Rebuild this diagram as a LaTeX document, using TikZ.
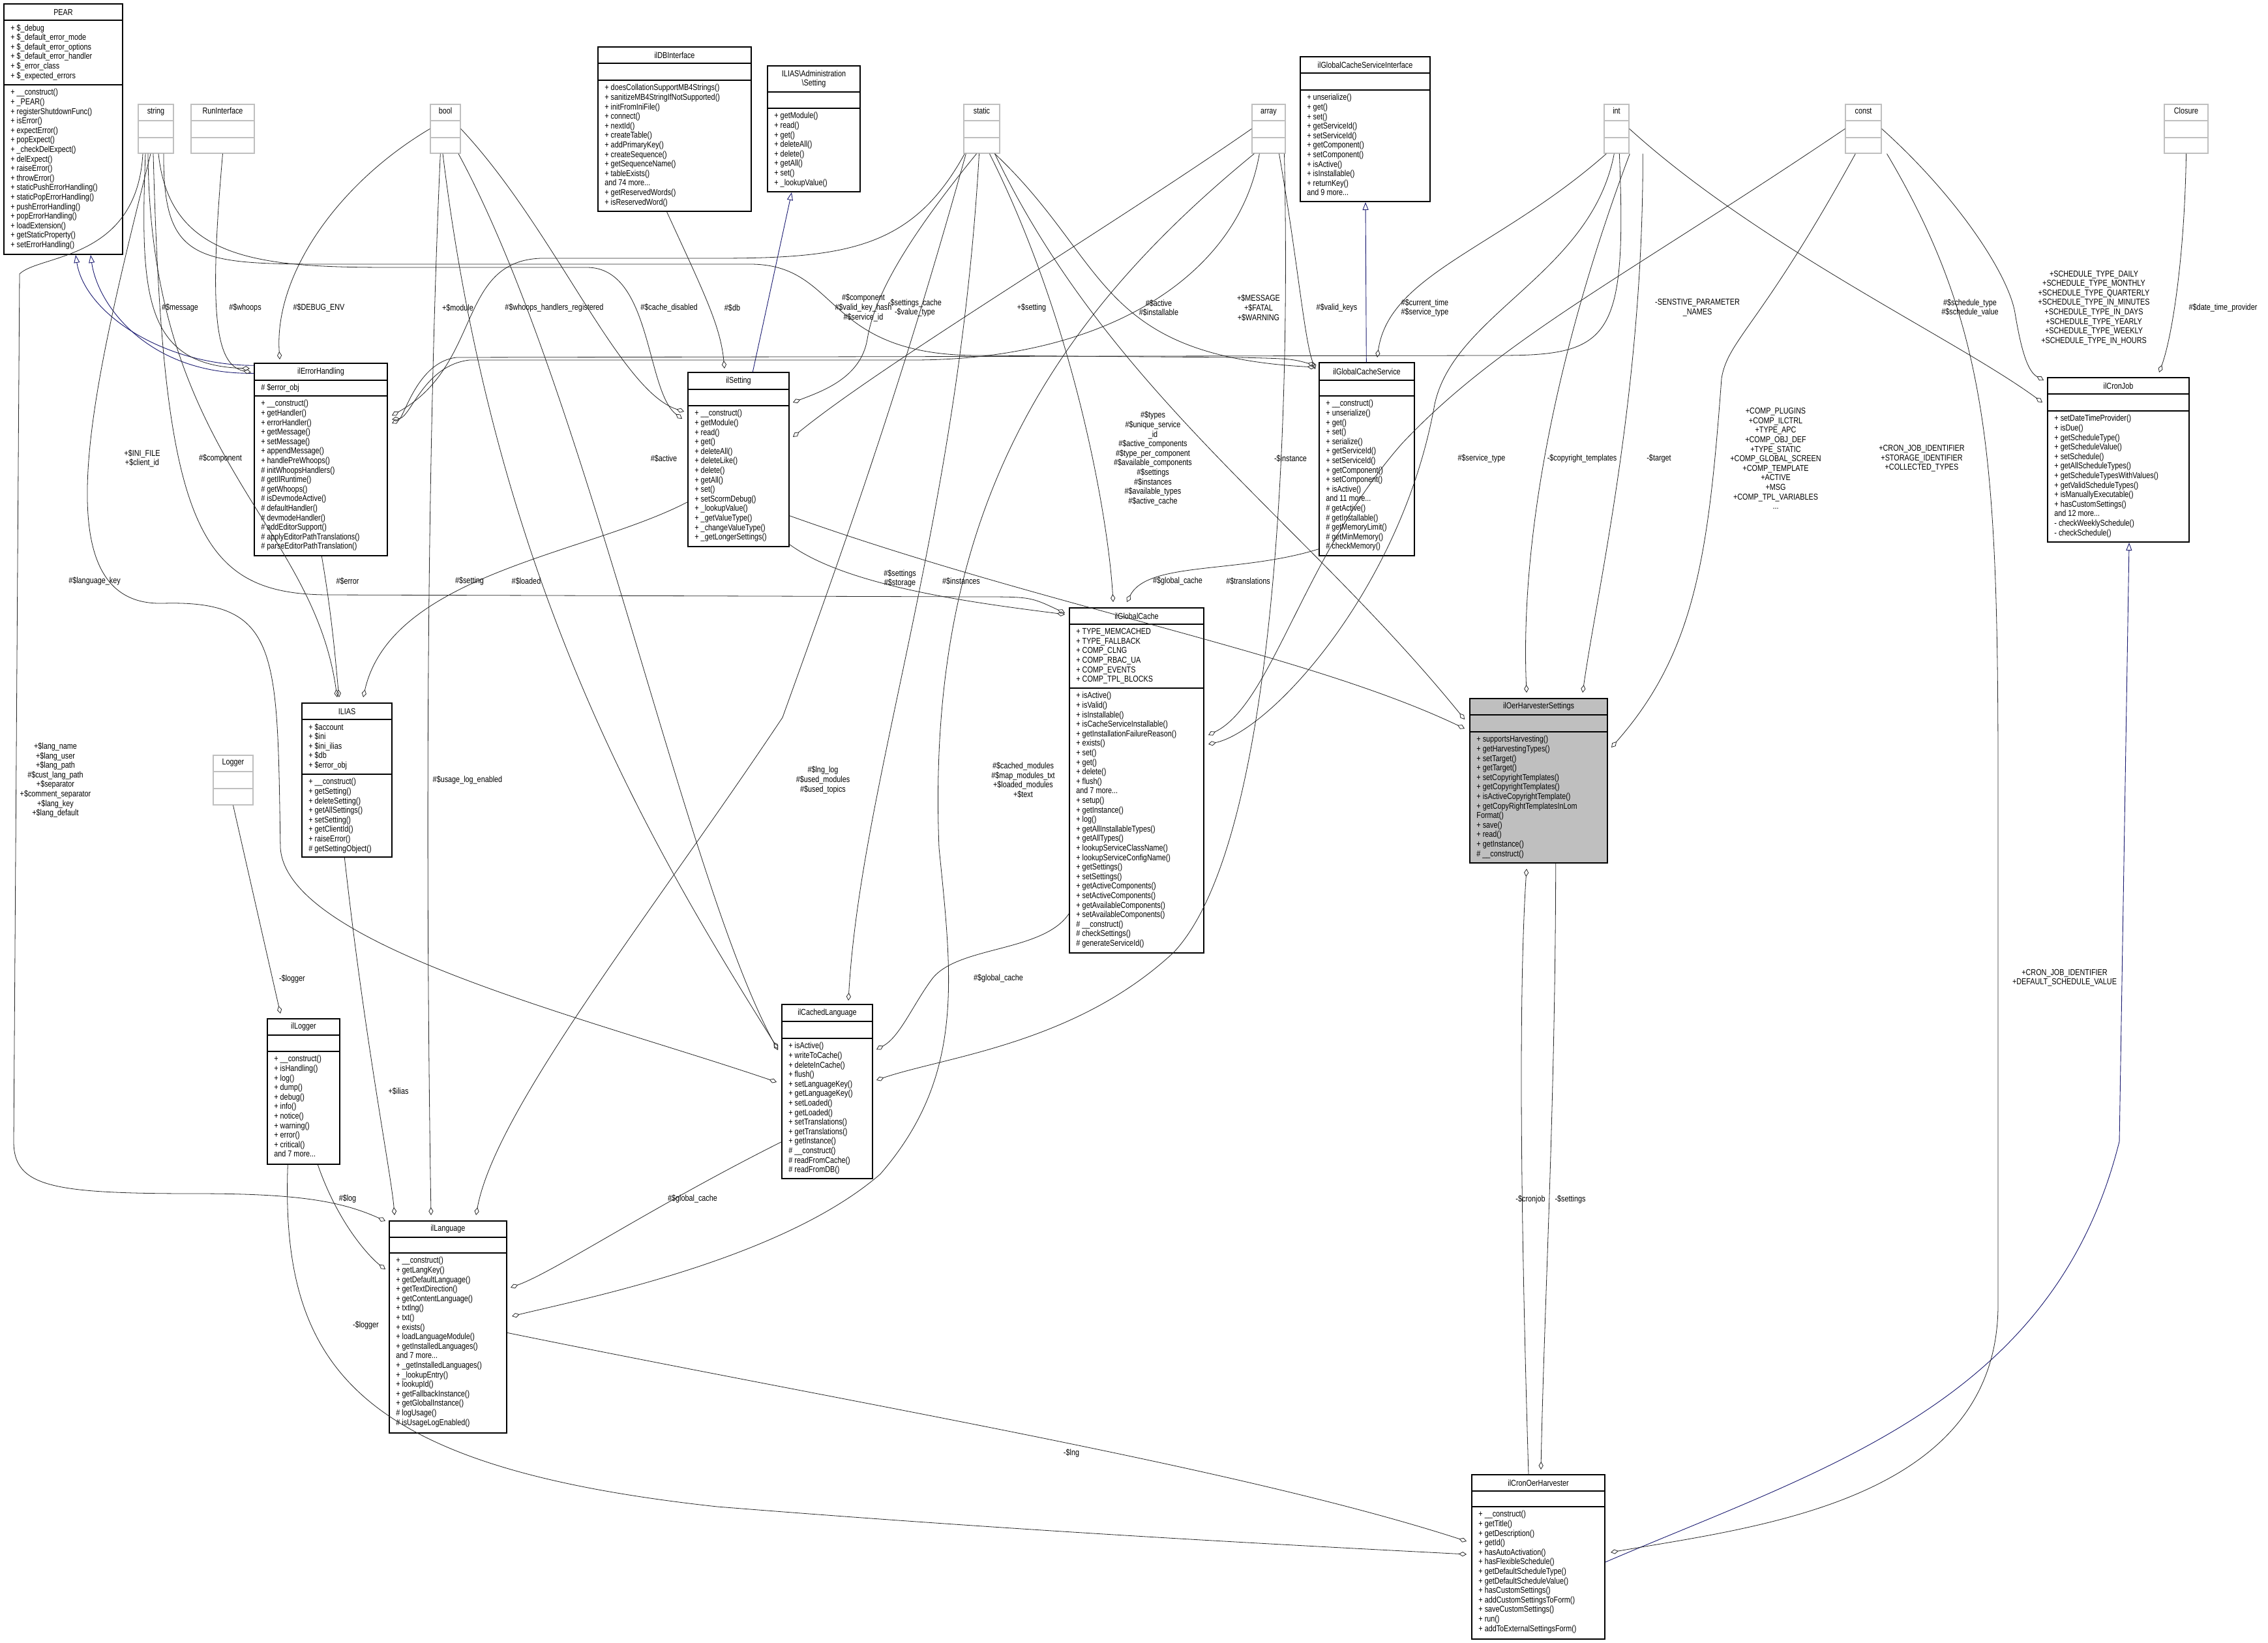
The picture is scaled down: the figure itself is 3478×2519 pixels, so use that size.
\documentclass[tikz,border=0pt]{standalone}
\usepackage{fontspec}
\setmainfont{Liberation Sans}[FakeStretch=0.82]
\usetikzlibrary{fit,arrows.meta}
\definecolor{gbox}{HTML}{BFBFBF}
\definecolor{inhc}{HTML}{191970}
\tikzset{
 fnt/.style={font=\fontsize{6.6}{7.3}\selectfont},
 clsbox/.style={draw=black,line width=0.7pt,inner sep=0pt},
 selbox/.style={draw=black,fill=gbox,line width=0.7pt,inner sep=0pt},
 graybox/.style={draw=gbox,line width=0.7pt,inner sep=0pt},
 ttl/.style={fnt,inner sep=0pt,align=center},
 lst/.style={fnt,inner sep=0pt,align=left,anchor=north west},
 lbl/.style={fnt,inner sep=0pt,align=center},
 agg/.style={draw=black!85,line width=0.4pt,-{Diamond[open,length=6pt,width=3.6pt]}},
 inh/.style={draw=inhc,line width=0.45pt,-{Triangle[open,length=6pt,width=4.5pt]}},
}
\newcommand\mkcls[9]{%
 \node[#8,fit={(#2,#3)(#4,#5)}] (#1) {};
 \draw[line width=0.7pt] (#2,#6) -- (#4,#6) (#2,#7) -- (#4,#7);
 \node[ttl] at ({(#2+#4)/2},{(#3+#6)/2}) {#9};}
\newcommand\mkgray[5]{%
 \node[graybox,fit={(#2,#3)(#4,#5)}] (#1) {};
 \draw[line width=0.7pt,draw=gbox] (#2,185) -- (#4,185) (#2,211) -- (#4,211);
 \node[ttl] at ({(#2+#4)/2},172) {\strut #1};}
\begin{document}
\begin{tikzpicture}[x=0.5pt,y=-0.5pt]
\useasboundingbox[fill=white] (0,0) rectangle (3478,2519);
% ---------- gray type boxes
\mkgray{string}{212}{160}{266}{235}
\mkgray{RunInterface}{293}{160}{390}{235}
\mkgray{bool}{660}{160}{706}{235}
\mkgray{static}{1478}{160}{1533}{235}
\mkgray{array}{1920}{160}{1971}{235}
\mkgray{int}{2460}{160}{2498}{235}
\mkgray{const}{2830}{160}{2885}{235}
\mkgray{Closure}{3319}{160}{3386}{235}
\node[graybox,fit={(327,1158)(388,1234)}] (Logger) {};
\draw[line width=0.7pt,draw=gbox] (327,1183) -- (388,1183) (327,1209) -- (388,1209);
\node[ttl] at (357.5,1170) {\strut Logger};
% ---------- class boxes
\mkcls{PEAR}{6}{6}{188}{390}{31}{130}{clsbox}{PEAR}
\node[lst] at (16,37) {+ \$\_debug\\+ \$\_default\_error\_mode\\+ \$\_default\_error\_options\\+ \$\_default\_error\_handler\\+ \$\_error\_class\\+ \$\_expected\_errors};
\node[lst] at (16,136) {+ \_\_construct()\\+ \_PEAR()\\+ registerShutdownFunc()\\+ isError()\\+ expectError()\\+ popExpect()\\+ \_checkDelExpect()\\+ delExpect()\\+ raiseError()\\+ throwError()\\+ staticPushErrorHandling()\\+ staticPopErrorHandling()\\+ pushErrorHandling()\\+ popErrorHandling()\\+ loadExtension()\\+ getStaticProperty()\\+ setErrorHandling()};
\mkcls{ilDBInterface}{917}{72}{1152}{324}{97}{123}{clsbox}{ilDBInterface}
\node[lst] at (927,129) {+ doesCollationSupportMB4Strings()\\+ sanitizeMB4StringIfNotSupported()\\+ initFromIniFile()\\+ connect()\\+ nextId()\\+ createTable()\\+ addPrimaryKey()\\+ createSequence()\\+ getSequenceName()\\+ tableExists()\\and 74 more...\\+ getReservedWords()\\+ isReservedWord()};
\mkcls{admsetting}{1177}{101}{1319}{294}{141}{166}{clsbox}{ILIAS\textbackslash Administration\\\textbackslash Setting}
\node[lst] at (1187,172) {+ getModule()\\+ read()\\+ get()\\+ deleteAll()\\+ delete()\\+ getAll()\\+ set()\\+ \_lookupValue()};
\mkcls{gcsi}{1994}{87}{2193}{309}{112}{138}{clsbox}{ilGlobalCacheServiceInterface}
\node[lst] at (2004,144) {+ unserialize()\\+ get()\\+ set()\\+ getServiceId()\\+ setServiceId()\\+ getComponent()\\+ setComponent()\\+ isActive()\\+ isInstallable()\\+ returnKey()\\and 9 more...};
\mkcls{ilCronJob}{3140}{579}{3357}{831}{604}{630}{clsbox}{ilCronJob}
\node[lst] at (3150,636) {+ setDateTimeProvider()\\+ isDue()\\+ getScheduleType()\\+ getScheduleValue()\\+ setSchedule()\\+ getAllScheduleTypes()\\+ getScheduleTypesWithValues()\\+ getValidScheduleTypes()\\+ isManuallyExecutable()\\+ hasCustomSettings()\\and 12 more...\\- checkWeeklySchedule()\\- checkSchedule()};
\mkcls{ilErrorHandling}{390}{557}{594}{852}{583}{607}{clsbox}{ilErrorHandling}
\node[lst] at (400,588) {\# \$error\_obj};
\node[lst] at (400,613) {+ \_\_construct()\\+ getHandler()\\+ errorHandler()\\+ getMessage()\\+ setMessage()\\+ appendMessage()\\+ handlePreWhoops()\\\# initWhoopsHandlers()\\\# getIlRuntime()\\\# getWhoops()\\\# isDevmodeActive()\\\# defaultHandler()\\\# devmodeHandler()\\\# addEditorSupport()\\\# applyEditorPathTranslations()\\\# parseEditorPathTranslation()};
\mkcls{ilSetting}{1055}{571}{1210}{838}{597}{622}{clsbox}{ilSetting}
\node[lst] at (1065,628) {+ \_\_construct()\\+ getModule()\\+ read()\\+ get()\\+ deleteAll()\\+ deleteLike()\\+ delete()\\+ getAll()\\+ set()\\+ setScormDebug()\\+ \_lookupValue()\\+ \_getValueType()\\+ \_changeValueType()\\+ \_getLongerSettings()};
\mkcls{gcs}{2023}{556}{2169}{852}{583}{607}{clsbox}{ilGlobalCacheService}
\node[lst] at (2033,613) {+ \_\_construct()\\+ unserialize()\\+ get()\\+ set()\\+ serialize()\\+ getServiceId()\\+ setServiceId()\\+ getComponent()\\+ setComponent()\\+ isActive()\\and 11 more...\\\# getActive()\\\# getInstallable()\\\# getMemoryLimit()\\\# getMinMemory()\\\# checkMemory()};
\mkcls{gc}{1640}{932}{1846}{1461}{957}{1055}{clsbox}{ilGlobalCache}
\node[lst] at (1650,963) {+ TYPE\_MEMCACHED\\+ TYPE\_FALLBACK\\+ COMP\_CLNG\\+ COMP\_RBAC\_UA\\+ COMP\_EVENTS\\+ COMP\_TPL\_BLOCKS};
\node[lst] at (1650,1061) {+ isActive()\\+ isValid()\\+ isInstallable()\\+ isCacheServiceInstallable()\\+ getInstallationFailureReason()\\+ exists()\\+ set()\\+ get()\\+ delete()\\+ flush()\\and 7 more...\\+ setup()\\+ getInstance()\\+ log()\\+ getAllInstallableTypes()\\+ getAllTypes()\\+ lookupServiceClassName()\\+ lookupServiceConfigName()\\+ getSettings()\\+ setSettings()\\+ getActiveComponents()\\+ setActiveComponents()\\+ getAvailableComponents()\\+ setAvailableComponents()\\\# \_\_construct()\\\# checkSettings()\\\# generateServiceId()};
\mkcls{ohs}{2254}{1071}{2465}{1323}{1096}{1122}{selbox}{ilOerHarvesterSettings}
\node[lst] at (2264,1128) {+ supportsHarvesting()\\+ getHarvestingTypes()\\+ setTarget()\\+ getTarget()\\+ setCopyrightTemplates()\\+ getCopyrightTemplates()\\+ isActiveCopyrightTemplate()\\+ getCopyRightTemplatesInLom\\Format()\\+ save()\\+ read()\\+ getInstance()\\\# \_\_construct()};
\mkcls{ILIAS}{463}{1078}{601}{1314}{1103}{1187}{clsbox}{ILIAS}
\node[lst] at (473,1109) {+ \$account\\+ \$ini\\+ \$ini\_ilias\\+ \$db\\+ \$error\_obj};
\node[lst] at (473,1193) {+ \_\_construct()\\+ getSetting()\\+ deleteSetting()\\+ getAllSettings()\\+ setSetting()\\+ getClientId()\\+ raiseError()\\\# getSettingObject()};
\mkcls{ilLogger}{410}{1562}{521}{1785}{1587}{1612}{clsbox}{ilLogger}
\node[lst] at (420,1618) {+ \_\_construct()\\+ isHandling()\\+ log()\\+ dump()\\+ debug()\\+ info()\\+ notice()\\+ warning()\\+ error()\\+ critical()\\and 7 more...};
\mkcls{icl}{1199}{1540}{1338}{1807}{1566}{1592}{clsbox}{ilCachedLanguage}
\node[lst] at (1209,1598) {+ isActive()\\+ writeToCache()\\+ deleteInCache()\\+ flush()\\+ setLanguageKey()\\+ getLanguageKey()\\+ setLoaded()\\+ getLoaded()\\+ setTranslations()\\+ getTranslations()\\+ getInstance()\\\# \_\_construct()\\\# readFromCache()\\\# readFromDB()};
\mkcls{ilLanguage}{597}{1872}{777}{2197}{1897}{1921}{clsbox}{ilLanguage}
\node[lst] at (607,1927) {+ \_\_construct()\\+ getLangKey()\\+ getDefaultLanguage()\\+ getTextDirection()\\+ getContentLanguage()\\+ txtlng()\\+ txt()\\+ exists()\\+ loadLanguageModule()\\+ getInstalledLanguages()\\and 7 more...\\+ \_getInstalledLanguages()\\+ \_lookupEntry()\\+ lookupId()\\+ getFallbackInstance()\\+ getGlobalInstance()\\\# logUsage()\\\# isUsageLogEnabled()};
\mkcls{coh}{2257}{2261}{2461}{2513}{2286}{2310}{clsbox}{ilCronOerHarvester}
\node[lst] at (2267,2316) {+ \_\_construct()\\+ getTitle()\\+ getDescription()\\+ getId()\\+ hasAutoActivation()\\+ hasFlexibleSchedule()\\+ getDefaultScheduleType()\\+ getDefaultScheduleValue()\\+ hasCustomSettings()\\+ addCustomSettingsToForm()\\+ saveCustomSettings()\\+ run()\\+ addToExternalSettingsForm()};
% ---------- inheritance
\draw[inh] (ilErrorHandling.north west) ++(0,4) .. controls (250,560) and (130,480) .. (116,391);
\draw[inh] (ilErrorHandling.north west) ++(0,16) .. controls (230,575) and (150,470) .. (139,391);
\draw[inh] ([xshift=50pt]ilSetting.north west) -- (1214,295);
\draw[inh] ([xshift=36.5pt]gcs.north west) -- (2094,310);
\draw[inh] (coh.east) ++(0,8) .. controls (2800,2250) and (3150,2150) .. (3250,1750) -- (3265,832);
% ---------- aggregations into ilErrorHandling
\draw[agg] ([xshift=-8pt]string.south) .. controls (215,450) and (220,560) .. (383,565);
\draw[agg] (RunInterface.south) .. controls (320,480) and (330,560) .. (385,571);
\draw[agg] (bool.west) .. controls (520,280) and (420,420) .. (429,551);
\draw[agg] ([xshift=1pt]static.south west) .. controls (1400,380) and (1300,396) .. (1100,396) -- (830,396) .. controls (700,400) and (740,560) .. (601,637);
\draw[agg] ([xshift=12pt]int.south west) .. controls (2495,520) and (2470,545) .. (2300,545) -- (700,548) .. controls (640,555) and (620,640) .. (601,649);
\draw[agg] ([xshift=6pt]array.south west) .. controls (1900,420) and (1700,552) .. (1400,552) -- (720,552) .. controls (650,560) and (630,640) .. (601,643);
% ---------- into ilSetting
\draw[agg] (ilDBInterface.south) ++(-12,0) .. controls (1080,450) and (1105,500) .. (1111,565);
\draw[agg] (bool.east) .. controls (850,350) and (950,600) .. (1049,631);
\draw[agg] ([xshift=2pt]string.south) .. controls (260,400) and (400,410) .. (600,410) -- (900,410) .. controls (1000,410) and (990,600) .. (1046,642);
\draw[agg] ([xshift=-4pt]static.south) .. controls (1380,380) and (1340,460) .. (1330,520) .. controls (1320,580) and (1260,600) .. (1216,617);
\draw[agg] (array.west) .. controls (1700,350) and (1350,560) .. (1216,670);
% ---------- into ILIAS
\draw[agg] ([xshift=52pt]ilErrorHandling.south west) .. controls (510,950) and (515,1020) .. (520,1069);
\draw[agg] ([yshift=34.5pt]ilSetting.south west) .. controls (900,850) and (600,880) .. (557,1069);
\draw[agg] ([xshift=-6pt]string.south) .. controls (230,700) and (480,800) .. (517,1069);
% ---------- into ilGlobalCacheService
\draw[agg] ([xshift=6pt]string.south) .. controls (250,400) and (300,405) .. (500,405) -- (1150,405) .. controls (1290,405) and (1260,545) .. (1500,545) -- (1900,548) .. controls (1980,550) .. (2017,560);
\draw[agg] ([xshift=10pt]static.south) .. controls (1700,400) and (1680,545) .. (2017,563);
\draw[agg] ([xshift=8pt]array.south) .. controls (1990,400) and (2000,520) .. (2017,566);
\draw[agg] ([xshift=2pt]int.south west) .. controls (2300,380) and (2130,420) .. (2112,548);
% ---------- into ilGlobalCache
\draw[agg] ([xshift=-2pt]string.south) .. controls (250,800) and (300,910) .. (500,912) -- (1500,915) .. controls (1580,915) .. (1633,940);
\draw[agg] ([yshift=2pt]ilSetting.south east) .. controls (1300,900) and (1500,925) .. (1633,942);
\draw[agg] ([xshift=6pt]static.south) .. controls (1650,500) and (1700,800) .. (1707,923);
\draw[agg] ([yshift=5.5pt]gcs.south west) .. controls (1900,880) and (1760,860) .. (1728,923);
\draw[agg] (const.west) .. controls (2500,420) and (2300,520) .. (2150,680) .. controls (2000,850) and (1950,1080) .. (1853,1127);
\draw[agg] ([xshift=8pt]int.south west) .. controls (2440,420) and (2230,480) .. (2200,620) .. controls (2150,900) and (1950,1120) .. (1853,1141);
% ---------- into ilCachedLanguage
\draw[agg] ([xshift=-2pt]static.south) .. controls (1470,800) and (1320,1200) .. (1301,1534);
\draw[agg] ([xshift=-2pt]bool.south) .. controls (760,900) and (1000,1300) .. (1193,1608);
\draw[agg] ([xshift=10pt]bool.south) .. controls (900,600) and (1050,1350) .. (1193,1610);
\draw[agg] ([xshift=-4pt]string.south) .. controls (140,600) and (60,930) .. (250,925) .. controls (430,920) and (425,1000) .. (430,1300) .. controls (440,1450) and (900,1560) .. (1191,1659);
\draw[agg] ([yshift=30.5pt]gc.south west) .. controls (1600,1460) and (1470,1450) .. (1430,1500) .. controls (1400,1540) and (1380,1590) .. (1344,1609);
\draw[agg] ([xshift=12pt]array.south) .. controls (1980,700) and (1950,1300) .. (1800,1460) .. controls (1650,1600) and (1450,1620) .. (1344,1656);
% ---------- into ilLogger and ilLanguage
\draw[agg] (Logger.south) -- (430,1554);
\draw[agg] ([xshift=-10pt]string.south) .. controls (210,400) and (60,390) .. (30,420) -- (21,1750) .. controls (21,1820) and (80,1830) .. (300,1830) .. controls (450,1830) and (520,1840) .. (591,1872);
\draw[agg] ([xshift=39pt]ilLogger.south west) .. controls (520,1880) and (570,1930) .. (591,1946);
\draw[agg] ([xshift=33pt]ILIAS.south west) .. controls (560,1600) and (600,1800) .. (605,1863);
\draw[agg] ([xshift=8pt]bool.south west) .. controls (650,800) and (655,1500) .. (661,1863);
\draw[agg] ([xshift=2pt]static.south west) .. controls (1380,600) and (1290,850) .. (1200,1100) .. controls (1000,1400) and (760,1700) .. (730,1863);
\draw[agg] ([yshift=28.5pt]icl.south west) .. controls (1000,1850) and (850,1950) .. (783,1974);
\draw[agg] ([xshift=2pt]array.south west) .. controls (1600,500) and (1420,800) .. (1440,1300) .. controls (1460,1500) and (1480,1650) .. (1350,1800) .. controls (1200,1930) and (900,1990) .. (785,2018);
% ---------- into ilOerHarvesterSettings
\draw[agg] ([xshift=10pt]static.south) .. controls (1700,600) and (2000,800) .. (2246,1103);
\draw[agg] ([yshift=24pt]ilSetting.south east) .. controls (1600,930) and (2000,1000) .. (2246,1117);
\draw[agg] ([xshift=20pt]int.south west) .. controls (2400,500) and (2330,800) .. (2341,1062);
\draw[agg] ([xshift=30pt]int.south west) .. controls (2520,600) and (2450,900) .. (2427,1062);
\draw[agg] ([xshift=8pt]const.south west) .. controls (2700,500) and (2650,520) .. (2640,580) .. controls (2620,850) and (2600,1000) .. (2471,1146);
\draw[agg] ([xshift=-7.5pt]coh.north) .. controls (2330,1800) and (2330,1500) .. (2341,1332);
% ---------- into ilCronJob
\draw[agg] (const.east) .. controls (3000,300) and (3080,420) .. (3090,480) .. controls (3100,540) and (3110,570) .. (3134,583);
\draw[agg] (int.east) .. controls (2700,380) and (3000,520) .. (3132,617);
\draw[agg] (Closure.south) .. controls (3350,400) and (3330,520) .. (3311,571);
% ---------- into ilCronOerHarvester
\draw[agg] ([xshift=-40pt]ohs.south east) .. controls (2385,1700) and (2368,2000) .. (2363,2253);
\draw[agg] ([yshift=-86pt]ilLanguage.north east) .. controls (1300,2150) and (1900,2250) .. (2249,2363);
\draw[agg] ([xshift=16pt]ilLogger.south west) .. controls (430,2100) and (550,2250) .. (1100,2310) .. controls (1600,2350) and (2000,2370) .. (2249,2383);
\draw[agg] ([xshift=18pt]const.south) .. controls (3050,500) and (3064,700) .. (3064,1200) -- (3064,2000) .. controls (3064,2300) and (2700,2340) .. (2470,2380);
% ---------- labels
\node[lbl] (l1) at (276,472) {\#\$message};
\node[lbl] (l2) at (376,472) {\#\$whoops};
\node[lbl] (l3) at (489,472) {\#\$DEBUG\_ENV};
\node[lbl] (l4) at (702,472) {+\$module};
\node[lbl] (l5) at (850,472) {\#\$whoops\_handlers\_registered};
\node[lbl] (l6) at (1026,472) {\#\$cache\_disabled};
\node[lbl] (l7) at (1123,472) {\#\$db};
\node[lbl] (l8) at (1324,472) {\#\$component\\\#\$valid\_key\_hash\\\#\$service\_id};
\node[lbl] (l9) at (1403,472) {-\$settings\_cache\\-\$value\_type};
\node[lbl] (l10) at (1582,472) {+\$setting};
\node[lbl] (l11) at (1777,472) {\#\$active\\\#\$installable};
\node[lbl] (l12) at (1930,472) {+\$MESSAGE\\+\$FATAL\\+\$WARNING};
\node[lbl] (l13) at (2050,472) {\#\$valid\_keys};
\node[lbl] (l14) at (2185,472) {\#\$current\_time\\\#\$service\_type};
\node[lbl] (l15) at (2603,472) {-SENSTIVE\_PARAMETER\\\_NAMES};
\node[lbl] (l16) at (3021,472) {\#\$schedule\_type\\\#\$schedule\_value};
\node[lbl] (l17) at (3211,472) {+SCHEDULE\_TYPE\_DAILY\\+SCHEDULE\_TYPE\_MONTHLY\\+SCHEDULE\_TYPE\_QUARTERLY\\+SCHEDULE\_TYPE\_IN\_MINUTES\\+SCHEDULE\_TYPE\_IN\_DAYS\\+SCHEDULE\_TYPE\_YEARLY\\+SCHEDULE\_TYPE\_WEEKLY\\+SCHEDULE\_TYPE\_IN\_HOURS};
\node[lbl] (l18) at (3409,472) {\#\$date\_time\_provider};
\node[lbl] (l19) at (218,703) {+\$INI\_FILE\\+\$client\_id};
\node[lbl] (l20) at (338,703) {\#\$component};
\node[lbl] (l21) at (1018,703) {\#\$active};
\node[lbl] (l22) at (1768,703) {\#\$types\\\#\$unique\_service\\\_id\\\#\$active\_components\\\#\$type\_per\_component\\\#\$available\_components\\\#\$settings\\\#\$instances\\\#\$available\_types\\\#\$active\_cache};
\node[lbl] (l23) at (1979,703) {-\$instance};
\node[lbl] (l24) at (2272,703) {\#\$service\_type};
\node[lbl] (l25) at (2426,703) {-\$copyright\_templates};
\node[lbl] (l26) at (2544,703) {-\$target};
\node[lbl] (l27) at (2723,703) {+COMP\_PLUGINS\\+COMP\_ILCTRL\\+TYPE\_APC\\+COMP\_OBJ\_DEF\\+TYPE\_STATIC\\+COMP\_GLOBAL\_SCREEN\\+COMP\_TEMPLATE\\+ACTIVE\\+MSG\\+COMP\_TPL\_VARIABLES\\...};
\node[lbl] (l28) at (2947,703) {+CRON\_JOB\_IDENTIFIER\\+STORAGE\_IDENTIFIER\\+COLLECTED\_TYPES};
\node[lbl] (l29) at (145,891) {\#\$language\_key};
\node[lbl] (l30) at (533,891) {\#\$error};
\node[lbl] (l31) at (720,891) {\#\$setting};
\node[lbl] (l32) at (807,891) {\#\$loaded};
\node[lbl] (l33) at (1380,887) {\#\$settings\\\#\$storage};
\node[lbl] (l34) at (1474,891) {\#\$instances};
\node[lbl] (l35) at (1806,891) {\#\$global\_cache};
\node[lbl] (l36) at (1914,891) {\#\$translations};
\node[lbl] (l37) at (85,1196) {+\$lang\_name\\+\$lang\_user\\+\$lang\_path\\\#\$cust\_lang\_path\\+\$separator\\+\$comment\_separator\\+\$lang\_key\\+\$lang\_default};
\node[lbl] (l38) at (717,1196) {\#\$usage\_log\_enabled};
\node[lbl] (l39) at (1262,1196) {\#\$lng\_log\\\#\$used\_modules\\\#\$used\_topics};
\node[lbl] (l40) at (1569,1196) {\#\$cached\_modules\\\#\$map\_modules\_txt\\+\$loaded\_modules\\+\$text};
\node[lbl] (l41) at (448,1501) {-\$logger};
\node[lbl] (l42) at (1531,1500) {\#\$global\_cache};
\node[lbl] (l43) at (3166,1499) {+CRON\_JOB\_IDENTIFIER\\+DEFAULT\_SCHEDULE\_VALUE};
\node[lbl] (l44) at (611,1673) {+\$ilias};
\node[lbl] (l45) at (533,1838) {\#\$log};
\node[lbl] (l46) at (1062,1838) {\#\$global\_cache};
\node[lbl] (l47) at (2347,1839) {-\$cronjob};
\node[lbl] (l48) at (2408,1839) {-\$settings};
\node[lbl] (l49) at (561,2032) {-\$logger};
\node[lbl] (l50) at (1643,2228) {-\$lng};
\end{tikzpicture}
\end{document}
